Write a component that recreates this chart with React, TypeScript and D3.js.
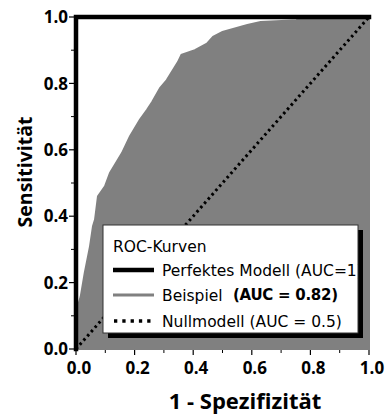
import React from "react";
import * as d3 from "d3";

// ROC curve of the example model (false positive rate, true positive rate)
const fpr = [0, 0, 0.016, 0.03, 0.048, 0.058, 0.065, 0.075, 0.099, 0.116, 0.157, 0.184, 0.218, 0.242, 0.26, 0.287, 0.31, 0.348, 0.36, 0.406, 0.447, 0.468, 0.5, 0.585, 0.63, 0.755, 0.755, 1.0];
const tpr = [0, 0.11, 0.157, 0.23, 0.31, 0.37, 0.39, 0.46, 0.49, 0.53, 0.59, 0.64, 0.69, 0.72, 0.744, 0.786, 0.81, 0.864, 0.886, 0.9, 0.92, 0.94, 0.955, 0.976, 0.985, 0.99, 1.0, 1.0];

const perfectX = [0, 0, 1];
const perfectY = [0, 1, 1];
const nullX = [0, 1];
const nullY = [0, 1];

const majorTicks = [0, 0.2, 0.4, 0.6, 0.8, 1.0];
const minorTicks = [0.1, 0.3, 0.5, 0.7, 0.9];

const legendTitle = "ROC-Kurven";
const legendLabels = ["Perfektes Modell (AUC=1)", "Beispiel", "Nullmodell (AUC = 0.5)"];
const exampleAuc = "(AUC = 0.82)";

const W = 387;
const H = 414;
const tickFont = "'Open Sans', sans-serif";
const legFont = "'DejaVu Sans', sans-serif";

export default function App() {
  const x = d3.scaleLinear().domain([0, 1]).range([76, 369]);
  const y = d3.scaleLinear().domain([0, 1]).range([349, 17]);

  const roc = fpr.map((f, i) => [f, tpr[i]] as [number, number]);
  const poly: [number, number][] = [...roc, [1, 0], [0, 0]];
  const area = d3.line<[number, number]>().x(d => x(d[0])).y(d => y(d[1]))(poly) + "Z";

  const line = d3.line<[number, number]>().x(d => x(d[0])).y(d => y(d[1]));
  const perfect = line(perfectX.map((v, i) => [v, perfectY[i]] as [number, number]));
  const nullLine = line(nullX.map((v, i) => [v, nullY[i]] as [number, number]));

  const lx = 103, ly = 225, lw = 255, lh = 108;
  const rows = [270, 295, 321];

  return (
    <svg width={W} height={H} style={{ position: "absolute", left: 0, top: 0 }} fontFamily={tickFont}>
      <defs>
        <clipPath id="legclip">
          <rect x={lx} y={ly} width={lw} height={lh} />
        </clipPath>
      </defs>
      <rect x={0} y={0} width={W} height={H} fill="#fff" />

      {/* example ROC area */}
      <path d={area} fill="#808080" stroke="#808080" strokeWidth={2} />

      {/* null model */}
      <path d={nullLine ?? ""} fill="none" stroke="#000" strokeWidth={3} strokeDasharray="2.5 3.2" />

      {/* perfect model */}
      <path d={perfect ?? ""} fill="none" stroke="#000" strokeWidth={4.5} strokeLinecap="square" />

      {/* y axis ticks */}
      {majorTicks.map(t => (
        <g key={"y" + t}>
          <line x1={69} x2={74} y1={y(t)} y2={y(t)} stroke="#000" strokeWidth={1.2} />
          <text x={68} y={y(t)} dy="0.36em" textAnchor="end" fontSize={17} fontWeight={700}>
            {t.toFixed(1)}
          </text>
        </g>
      ))}
      {minorTicks.map(t => (
        <line key={"ym" + t} x1={71} x2={74} y1={y(t)} y2={y(t)} stroke="#000" strokeWidth={1} />
      ))}

      {/* x axis ticks */}
      {majorTicks.map(t => (
        <g key={"x" + t}>
          <line x1={x(t)} x2={x(t)} y1={350} y2={355} stroke="#000" strokeWidth={1.2} />
          <text x={x(t) + 3} y={374} textAnchor="middle" fontSize={17} fontWeight={700}>
            {t.toFixed(1)}
          </text>
        </g>
      ))}
      {minorTicks.map(t => (
        <line key={"xm" + t} x1={x(t)} x2={x(t)} y1={350} y2={353} stroke="#000" strokeWidth={1} />
      ))}

      {/* axis titles */}
      <text x={245} y={409} textAnchor="middle" fontSize={22} fontWeight={700}>
        1 - Spezifizität
      </text>
      <text transform="translate(32,172) rotate(-90)" textAnchor="middle" fontSize={19.5} fontWeight={700}>
        Sensitivität
      </text>

      {/* legend */}
      <rect x={lx + 5} y={ly + 5} width={lw} height={lh} fill="#000" />
      <rect x={lx} y={ly} width={lw} height={lh} fill="#fff" stroke="#333" strokeWidth={1} />
      <g clipPath="url(#legclip)" fontSize={15.5} fontFamily={legFont}>
        <text x={113} y={252}>{legendTitle}</text>
        <line x1={113} x2={154} y1={rows[0]} y2={rows[0]} stroke="#000" strokeWidth={4.5} />
        <line x1={113} x2={154} y1={rows[1]} y2={rows[1]} stroke="#808080" strokeWidth={3} />
        <line x1={114} x2={154} y1={rows[2]} y2={rows[2]} stroke="#000" strokeWidth={3.3} strokeDasharray="3.3 5" />
        {legendLabels.map((l, i) => (
          <text key={l} x={162} y={rows[i]} dy="0.36em">{l}</text>
        ))}
        <text x={233} y={rows[1]} dy="0.36em" fontSize={15} fontWeight={700} textLength={105} lengthAdjust="spacing">{exampleAuc}</text>
      </g>
    </svg>
  );
}
